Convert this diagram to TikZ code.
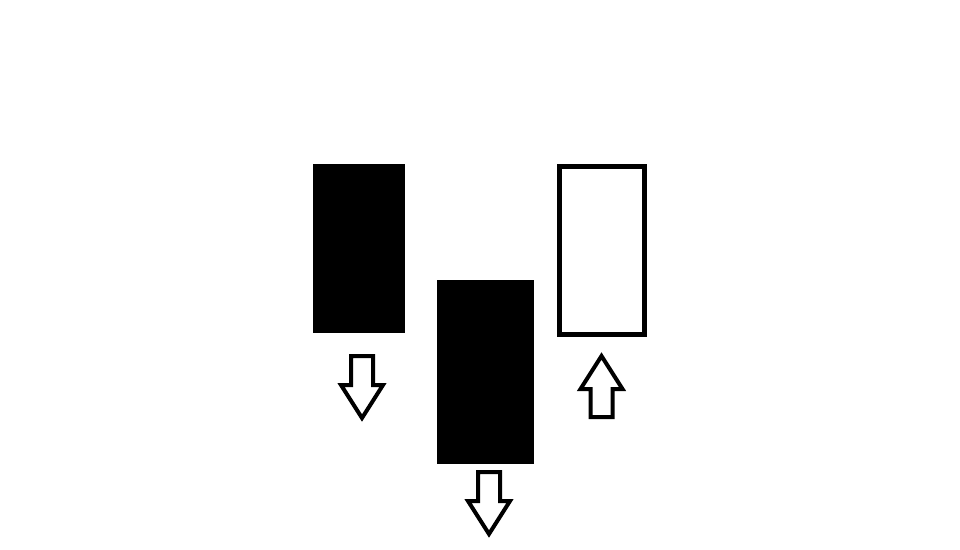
\documentclass[tikz,border=0pt]{standalone}
\begin{document}
\begin{tikzpicture}[
        x=1pt, y=-1pt,
        hollow/.style={draw=black, fill=white, line width=4pt, line join=miter},
        bar/.style={fill=black}
        ]
            \useasboundingbox (0, 0) rectangle (960, 549);
            
            % Bars
            \fill[bar] (313, 164) rectangle (405, 333);
            \fill[bar] (437, 280) rectangle (534, 464);
            \draw[hollow, line width=5pt] (559.5, 166.5) rectangle (644.5, 334.5);
            
            % Arrows down
            \draw[hollow] (351, 356) -- (351, 385) -- (341, 385) -- (362, 418)
                -- (383, 385) -- (373, 385) -- (373, 356) -- cycle;
            \draw[hollow] (478, 472) -- (478, 501) -- (468, 501) -- (489, 534)
                -- (510, 501) -- (500, 501) -- (500, 472) -- cycle;
            
            % Arrow up
            \draw[hollow] (590.5, 417) -- (590.5, 389) -- (580.5, 389) -- (601.5, 356)
                -- (622.5, 389) -- (612.5, 389) -- (612.5, 417) -- cycle;
        \end{tikzpicture}
\end{document}
